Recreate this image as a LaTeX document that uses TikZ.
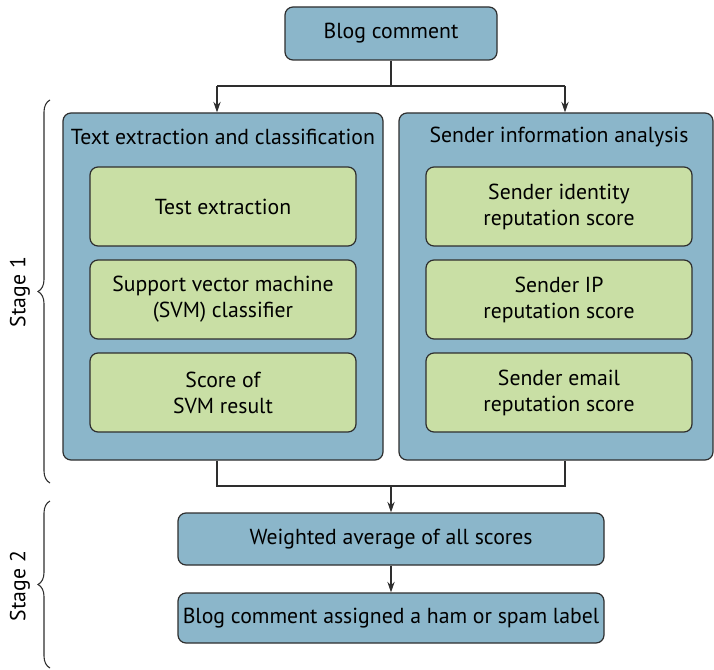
\documentclass[tikz,border=0pt]{standalone}
\usepackage{fontspec}
\setmainfont{PT Sans}
\usetikzlibrary{arrows.meta,decorations.pathreplacing}
\definecolor{boxblue}{HTML}{8BB6CA}
\definecolor{boxgreen}{HTML}{C9DFA5}
\definecolor{edge}{HTML}{2E2E2E}
\begin{document}
\begin{tikzpicture}[x=0.75pt,y=-0.75pt,
  bluebox/.style={draw=edge,line width=0.9pt,fill=boxblue,rounded corners=6pt,inner sep=0pt,font=\fontsize{16.3}{19.5}\selectfont,align=center},
  greenbox/.style={draw=edge,line width=0.9pt,fill=boxgreen,rounded corners=6pt,inner sep=0pt,minimum width=199.5pt,minimum height=59.25pt,font=\fontsize{16.3}{19.5}\selectfont,align=center},
  panel/.style={draw=edge,line width=0.9pt,fill=boxblue,rounded corners=6pt,inner sep=0pt,minimum height=260.25pt},
  conn/.style={draw=edge,line width=0.8pt},
  arr/.style={conn,-{Stealth[length=8pt,width=5.5pt]}},
  ptext/.style={font=\fontsize{16.3}{19.5}\selectfont},
  stagebrace/.style={draw=edge,line width=0.8pt,decorate,decoration={brace,amplitude=9pt}}
]
\useasboundingbox (0,0) rectangle (714,670);
% top
\node[bluebox,minimum width=159pt,minimum height=39.75pt] (blog) at (391,33.5) {Blog comment};
% panels
\node[panel,minimum width=240pt] (left) at (223,286.5) {};
\node[panel,minimum width=235.5pt] (right) at (556,286.5) {};
\node[ptext] (lt) at (223,137) {Text extraction and classification};
\node[ptext] (rt) at (559,137) {Sender information analysis};
% green boxes
\node[greenbox] (l1) at (223,206.5) {Test extraction};
\node[greenbox] (l2) at (223,299.5) {Support vector machine\\(SVM) classifier};
\node[greenbox] (l3) at (223,392.5) {Score of\\SVM result};
\node[greenbox] (r1) at (559,206.5) {Sender identity\\reputation score};
\node[greenbox] (r2) at (559,299.5) {Sender IP\\reputation score};
\node[greenbox] (r3) at (559,392.5) {Sender email\\reputation score};
% stage 2 boxes
\node[bluebox,minimum width=319.5pt,minimum height=39pt] (wavg) at (391,539) {Weighted average of all scores};
\node[bluebox,minimum width=319.5pt,minimum height=37.5pt] (label) at (391,618) {Blog comment assigned a ham or spam label};
% connectors top
\coordinate (split) at (391,86);
\coordinate (sl) at (217,86);
\coordinate (sr) at (565,86);
\draw[conn] (blog.south) -- (split);
\draw[conn] (sl) -- (sr);
\draw[arr] (sl) -- (sl |- left.north);
\draw[arr] (sr) -- (sr |- right.north);
% connectors bottom
\coordinate (jl) at (217,486);
\coordinate (jr) at (565,486);
\coordinate (join) at (391,486);
\draw[conn] (jl |- left.south) -- (jl) -- (jr) -- (jr |- right.south);
\draw[arr] (join) -- (wavg.north);
\draw[arr] (wavg.south) -- (label.north);
% braces
\coordinate (b1a) at (50,483);
\coordinate (b1b) at (50,100);
\coordinate (b2a) at (50,668);
\coordinate (b2b) at (50,501);
\draw[stagebrace] (b1a) -- (b1b);
\draw[stagebrace] (b2a) -- (b2b);
\node[ptext,rotate=90] (s1) at (20,292) {Stage 1};
\node[ptext,rotate=90] (s2) at (20,586) {Stage 2};
\end{tikzpicture}
\end{document}
